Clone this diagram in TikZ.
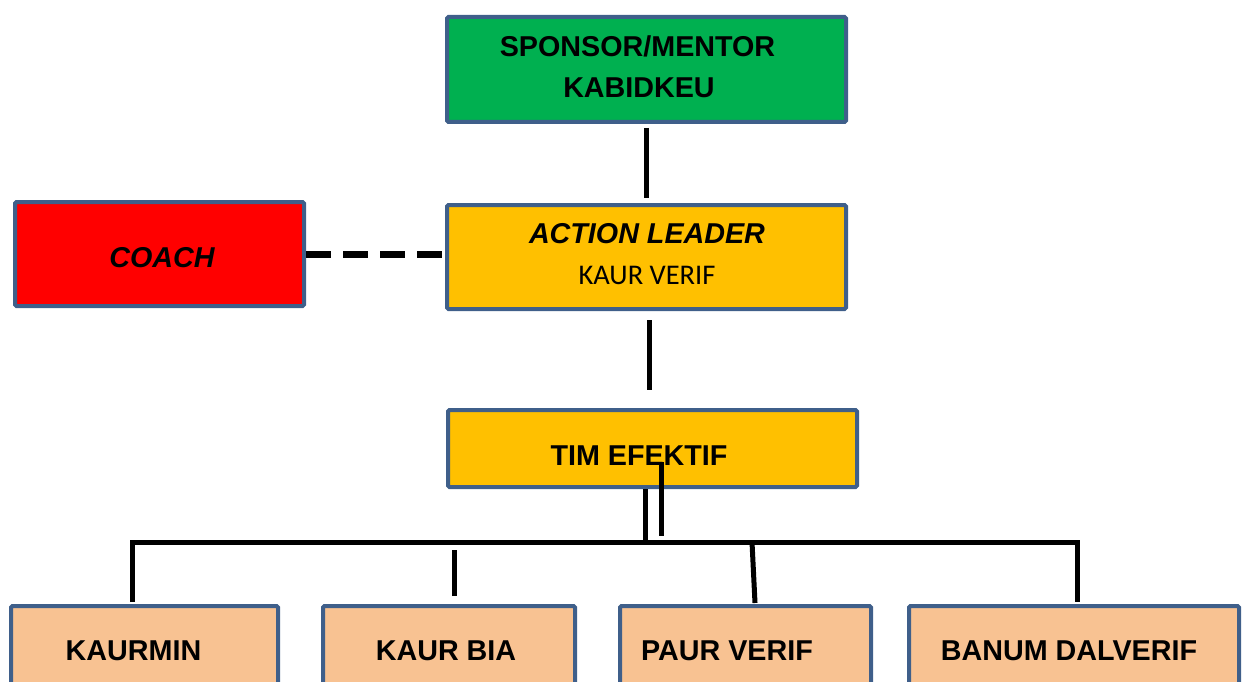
\documentclass[tikz,border=0pt]{standalone}
\usepackage{fontspec}
\setmainfont{Liberation Sans}
\newfontfamily\bodyfont{Carlito}
\usetikzlibrary{calc}
\definecolor{edgeblue}{HTML}{3F5F8A}
\definecolor{sponsorgreen}{HTML}{00B050}
\definecolor{coachred}{HTML}{FF0000}
\definecolor{leadgold}{HTML}{FFC000}
\definecolor{memberpeach}{HTML}{F8C292}

\begin{document}
\begin{tikzpicture}[x=1pt,y=-1pt,
  box/.style={draw=edgeblue, line width=4pt, rounded corners=1.5pt, inner sep=0pt},
  title/.style={font=\fontsize{28.7}{34}\selectfont\bfseries, inner sep=0pt, anchor=base},
  titleit/.style={title, font=\fontsize{28.7}{34}\selectfont\bfseries\itshape},
  plain/.style={font=\bodyfont\fontsize{28.5}{33}\selectfont, inner sep=0pt, anchor=base},
  conn/.style={line width=5pt, black},
  dashconn/.style={line width=7pt, black, dash pattern=on 25pt off 12pt},
]
\useasboundingbox (0,0) rectangle (1247,682);

% boxes
\node[box, fill=sponsorgreen, minimum width=399pt, minimum height=105pt] (sponsor) at (646.5,69.5) {};
\node[box, fill=coachred,     minimum width=289pt, minimum height=104pt] (coach)   at (159.5,254) {};
\node[box, fill=leadgold,     minimum width=399pt, minimum height=104pt] (leader)  at (646.5,257) {};
\node[box, fill=leadgold,     minimum width=409pt, minimum height=77pt]  (tim)     at (652.5,448.5) {};
\node[box, fill=memberpeach,  minimum width=267pt, minimum height=112pt] (kaurmin) at (144.5,662) {};
\node[box, fill=memberpeach,  minimum width=252pt, minimum height=112pt] (kaurbia) at (449,662) {};
\node[box, fill=memberpeach,  minimum width=251pt, minimum height=112pt] (paur)    at (745.5,662) {};
\node[box, fill=memberpeach,  minimum width=330pt, minimum height=112pt] (banum)   at (1074,662) {};

% texts
\node[title]   (tsponsor) at (637.5,57) {SPONSOR/MENTOR};
\node[title]   (tkabid)   at (639,98)   {KABIDKEU};
\node[titleit] (tcoach)   at (162,267)  {COACH};
\node[titleit] (tleader)  at (647,243)  {ACTION LEADER};
\node[plain]   (tkaur)    at (647,284)  {KAUR VERIF};
\node[title]   (ttim)     at (639,465)  {TIM EFEKTIF};
\node[title]   (tkaurmin) at (133.5,660) {KAURMIN};
\node[title]   (tkaurbia) at (446,660)  {KAUR BIA};
\node[title]   (tpaur)    at (727,660)  {PAUR VERIF};
\node[title]   (tbanum)   at (1069,660) {BANUM DALVERIF};

% connectors
\draw[conn] ([yshift=-4pt]sponsor.south) -- ([yshift=5pt]leader.north);
\draw[dashconn] (coach.east |- 0,254) -- (leader.west |- 0,254);
\draw[conn] ([xshift=2.5pt,yshift=-9pt]leader.south) -- ([xshift=-3.5pt,yshift=18pt]tim.north);

\coordinate (busL) at (132,542);
\coordinate (busR) at (1077,542);
\draw[conn] ([xshift=-7.5pt]tim.south) -- ([xshift=-7.5pt]tim.south |- busL);
\draw[conn] (661,462) -- (661,536);
\draw[conn] ([xshift=-12.5pt,yshift=2pt]kaurmin.north) -- (busL) -- (busR) -- ([xshift=3pt,yshift=2pt]banum.north);
\draw[conn] ([xshift=5pt,yshift=8pt]kaurbia.north) -- ([xshift=5pt]kaurbia.north |- 0,550);
\draw[conn] (busL -| 752,0) -- ([xshift=9.5pt,yshift=1pt]paur.north);
\end{tikzpicture}
\end{document}
